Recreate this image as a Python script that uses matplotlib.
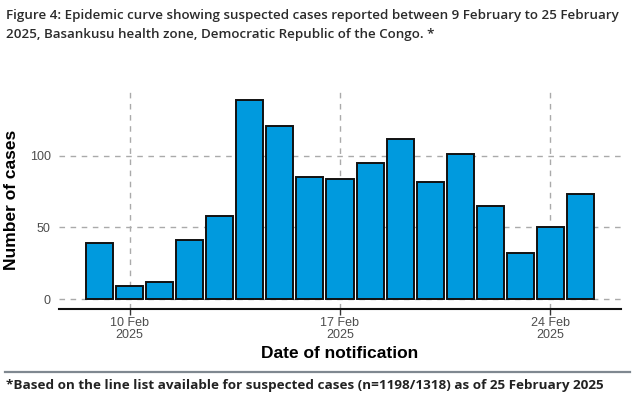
import matplotlib
matplotlib.use("Agg")
import matplotlib.pyplot as plt
from matplotlib.lines import Line2D

days = list(range(9, 26))
cases = [39, 9, 12, 41, 58, 139, 121, 85, 84, 95, 112, 82, 101, 65, 32, 50, 73]
tick_days = [10, 17, 24]
tick_labels = ["10 Feb\n2025", "17 Feb\n2025", "24 Feb\n2025"]
y_ticks = [0, 50, 100]

title = ("Figure 4: Epidemic curve showing suspected cases reported between 9 February to 25 February\n"
         "2025, Basankusu health zone, Democratic Republic of the Congo. *")
footer = "*Based on the line list available for suspected cases (n=1198/1318) as of 25 February 2025"

W, H = 634, 400
fig = plt.figure(figsize=(W / 100, H / 100), dpi=100)
ax = fig.add_axes([59 / W, (H - 309) / H, (621 - 59) / W, (309 - 90) / H])

ax.bar(days, cases, width=0.9, color="#009ADE", edgecolor="#111111", linewidth=1.4, zorder=3)

ax.set_xlim(7.65, 26.35)
ax.set_ylim(-6.95, 145.95)
ax.set_xticks(tick_days)
ax.set_xticklabels(tick_labels, family="Liberation Sans", fontsize=9, color="#4d4d4d", linespacing=1.0)
ax.set_yticks(y_ticks)
ax.set_yticklabels([str(v) for v in y_ticks], family="Liberation Sans", fontsize=9, color="#4d4d4d")
ax.tick_params(axis="y", length=0, pad=6)
ax.tick_params(axis="x", length=4, width=1, color="#333333", pad=2)

for s in ["top", "right", "left"]:
    ax.spines[s].set_visible(False)
ax.spines["bottom"].set_linewidth(1.5)
ax.spines["bottom"].set_color("#111111")

ax.grid(True, color="#aaaaaa", linestyle=(0, (4, 4)), linewidth=1.0, zorder=0)
ax.set_axisbelow(True)

ax.set_ylabel("Number of cases", family="Liberation Sans", fontsize=12.5, fontweight="bold", labelpad=8)
ax.set_xlabel("Date of notification", family="Liberation Sans", fontsize=12.5, fontweight="bold", labelpad=3)

fig.text(6 / W, 1 - 8.5 / H, title, family="Open Sans", fontweight="semibold", fontsize=9.65,
         color="#2b2b2b", va="top", ha="left", linespacing=1.62)

fig.add_artist(Line2D([5 / W, 630 / W], [1 - 372 / H, 1 - 372 / H], color="#7f8890", linewidth=1.6))
fig.text(6 / W, 1 - 385 / H, footer, family="Open Sans", fontweight="bold", fontsize=9.7,
         color="#222222", va="center", ha="left")

fig.savefig("out.png", dpi=100)
